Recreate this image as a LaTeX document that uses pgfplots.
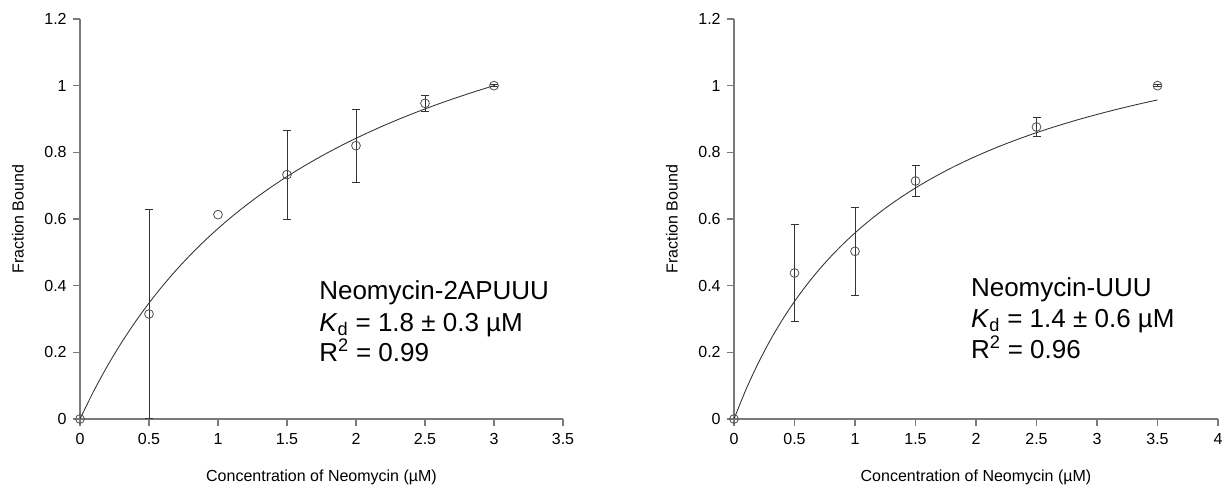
\documentclass[border=0pt]{standalone}
\usepackage{fontspec}
\setmainfont{Liberation Sans}
\usepackage{pgfplots}
\pgfplotsset{compat=1.18}
\definecolor{axgray}{HTML}{7A7A7A}
\definecolor{fitgray}{HTML}{333333}
\definecolor{markgray}{HTML}{505050}

\pgfplotsset{
  bindpanel/.style={
    scale only axis, height=300pt,
    axis lines=left, axis line style={-, axgray, line width=0.9pt},
    tick style={axgray, line width=0.9pt}, tick align=outside,
    major tick length=5pt,
    ymin=0, ymax=1.2, ytick={0,0.2,...,1.2},
    xmin=0,
    clip=false,
    /pgf/number format/assume math mode=true,
    tick label style={font=\fontsize{12}{14}\selectfont},
    xticklabel style={yshift=-2.5pt},
    yticklabel style={xshift=-1.5pt},
    label style={font=\fontsize{12}{14}\selectfont},
    xlabel={Concentration of Neomycin (µM)},
    ylabel={Fraction Bound},
    xlabel style={at={([yshift=-43.5pt]rel axis cs:0.5,0)}, anchor=center},
    ylabel style={at={([xshift=-46.5pt]rel axis cs:0,0.5)}, anchor=center},
  },
  fitline/.style={fitgray, line width=0.65pt, no marks, smooth},
  datapts/.style={only marks, mark=o, mark size=3.3pt,
    mark options={markgray, line width=0.6pt},
    error bars/.cd, y dir=both, y explicit,
    error bar style={fitgray, line width=0.6pt},
    error mark options={rotate=90, mark size=3pt, fitgray, line width=0.6pt}},
}
\tikzset{annot/.style={anchor=base west, font=\fontsize{19.5}{23}\selectfont}}

\begin{document}
\begin{tikzpicture}
% left panel: Neomycin-2APUUU
\begin{axis}[bindpanel, width=362.25pt, xmax=3.5, xtick={0,0.5,...,3.5}]
\addplot[fitline] coordinates {
 (0,0) (0.1,0.0842) (0.2,0.16) (0.3,0.2286) (0.4,0.2909) (0.5,0.3478)
 (0.6,0.4) (0.7,0.448) (0.8,0.4923) (0.9,0.5333) (1.0,0.5714)
 (1.1,0.6069) (1.2,0.64) (1.3,0.6710) (1.4,0.7) (1.5,0.7273)
 (1.6,0.7529) (1.7,0.7771) (1.8,0.8) (1.9,0.8216) (2.0,0.8421)
 (2.1,0.8615) (2.2,0.88) (2.3,0.8976) (2.4,0.9143) (2.5,0.9302)
 (2.6,0.9455) (2.7,0.96) (2.8,0.9739) (2.9,0.9872) (3.0,1.0)};
\addplot[datapts] coordinates {
 (0,0) (0.5,0.315) +- (0,0.314) (1,0.613) (1.5,0.733) +- (0,0.133)
 (2,0.82) +- (0,0.11) (2.5,0.947) +- (0,0.025) (3,1.0) +- (0,0.003)};
\node[annot] at (axis cs:1.70,0.357) {Neomycin-2APUUU};
\node[annot] at (axis cs:1.70,0.263) {\textit{K}\textsubscript{d} = 1.8 ± 0.3 µM};
\node[annot] at (axis cs:1.70,0.171) {R\textsuperscript{2} = 0.99};
\end{axis}

% right panel: Neomycin-UUU
\begin{axis}[bindpanel, at={(490.5pt,0)}, width=363pt, xmax=4, xtick={0,0.5,...,4}]
\addplot[fitline] coordinates {
 (0,0) (0.1,0.0893) (0.2,0.1675) (0.3,0.2365) (0.4,0.2978) (0.5,0.3526)
 (0.6,0.402) (0.7,0.4467) (0.8,0.4873) (0.9,0.5243) (1.0,0.5583)
 (1.1,0.5896) (1.2,0.6185) (1.3,0.6452) (1.4,0.67) (1.5,0.6931)
 (1.6,0.7147) (1.7,0.7348) (1.8,0.7538) (1.9,0.7715) (2.0,0.7882)
 (2.1,0.804) (2.2,0.8189) (2.3,0.833) (2.4,0.8463) (2.5,0.859)
 (2.6,0.871) (2.7,0.8824) (2.8,0.8933) (2.9,0.9037) (3.0,0.9136)
 (3.1,0.9231) (3.2,0.9322) (3.3,0.9409) (3.4,0.9492) (3.5,0.9571)};
\addplot[datapts] coordinates {
 (0,0) (0.5,0.438) +- (0,0.145) (1,0.503) +- (0,0.133)
 (1.5,0.714) +- (0,0.047) (2.5,0.876) +- (0,0.028) (3.5,1.0) +- (0,0.003)};
\node[annot] at (axis cs:1.92,0.367) {Neomycin-UUU};
\node[annot] at (axis cs:1.92,0.274) {\textit{K}\textsubscript{d} = 1.4 ± 0.6 µM};
\node[annot] at (axis cs:1.92,0.182) {R\textsuperscript{2} = 0.96};
\end{axis}

\pgfresetboundingbox
\path[use as bounding box] (-60pt,-51.75pt) rectangle (856.5pt,314.25pt);
\end{tikzpicture}
\end{document}
